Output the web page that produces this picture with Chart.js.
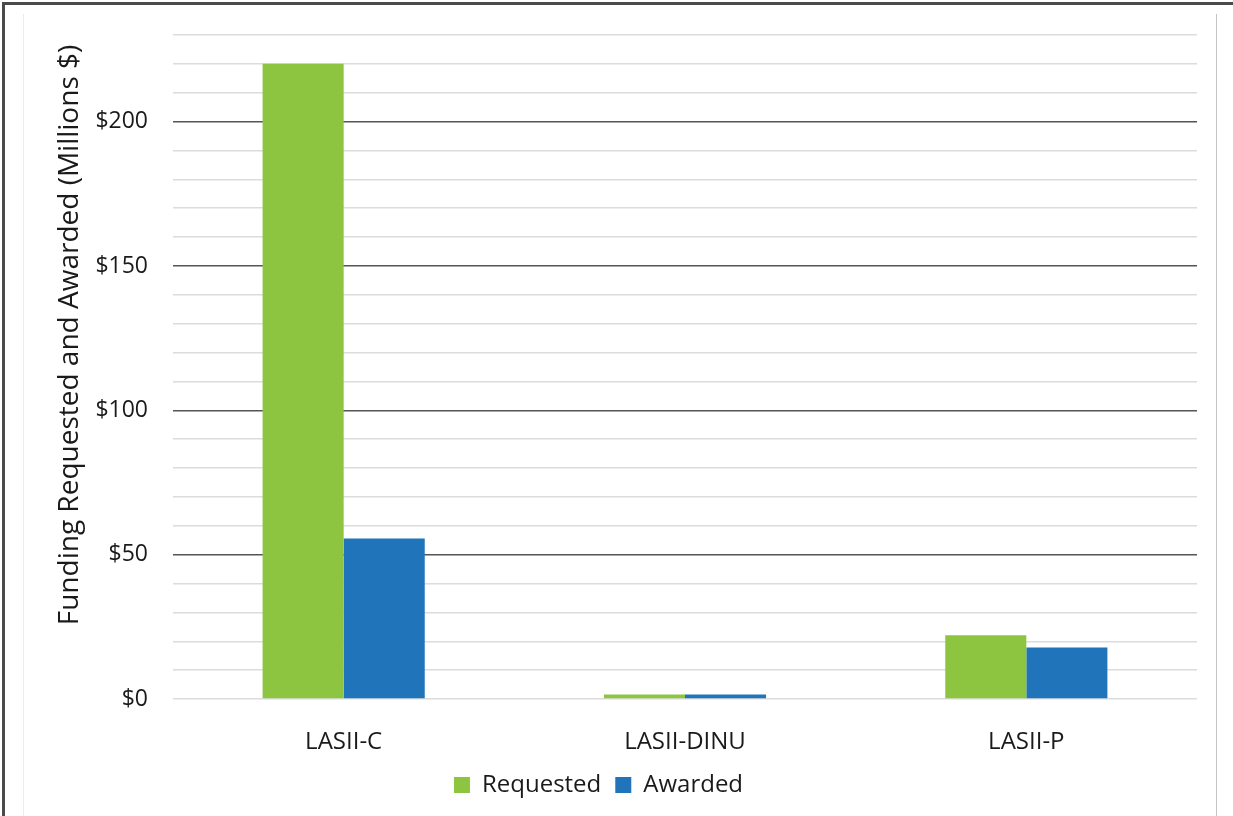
<!DOCTYPE html>
<html>
<head>
<meta charset="utf-8">
<script src="https://cdn.jsdelivr.net/npm/chart.js@4"></script>
<style>
html, body { margin: 0; padding: 0; background: #fff; }
body { width: 1233px; height: 816px; position: relative; overflow: hidden; }
.frame-top { position: absolute; left: 2px; top: 2px; width: 1231px; height: 3px; background: #4a4a4a; }
.frame-left { position: absolute; left: 2px; top: 2px; width: 3px; height: 814px; background: #4a4a4a; }
.inner-left { position: absolute; left: 23px; top: 14px; width: 1px; height: 802px; background: #ececec; }
.inner-right { position: absolute; left: 1216px; top: 14px; width: 1px; height: 802px; background: #c4c4c4; }
#wrap { position: absolute; left: 0; top: 0; width: 1233px; height: 816px; }
</style>
</head>
<body>
<div id="wrap"><canvas id="chart"></canvas></div>
<div class="frame-top"></div>
<div class="frame-left"></div>
<div class="inner-left"></div>
<div class="inner-right"></div>
<script>
const categories = ['LASII-C', 'LASII-DINU', 'LASII-P'];
const requested = [220, 1.6, 22.1];
const awarded = [55.6, 1.6, 17.8];
const yTicks = [0, 50, 100, 150, 200];

const fontFamily = '"Open Sans", "Noto Sans", sans-serif';

const yTitlePlugin = {
    id: 'yTitle',
    afterDraw(chart) {
        const ctx = chart.ctx;
        ctx.save();
        ctx.translate(70, 335);
        ctx.rotate(-Math.PI / 2);
        ctx.font = '28px ' + fontFamily;
        ctx.fillStyle = '#1a1a1a';
        ctx.textAlign = 'center';
        ctx.textBaseline = 'middle';
        ctx.fillText('Funding Requested and Awarded (Millions $)', 0, 0);
        ctx.restore();
    }
};

const ctx = document.getElementById('chart');
new Chart(ctx, {
    type: 'bar',
    data: {
        labels: categories,
        datasets: [
            { label: 'Requested', data: requested, backgroundColor: '#8DC541' },
            { label: 'Awarded', data: awarded, backgroundColor: '#1F74BA' }
        ]
    },
    options: {
        responsive: true,
        maintainAspectRatio: false,
        animation: false,
        layout: { padding: { top: 35, right: 36, bottom: 9, left: 0 } },
        datasets: { bar: { categoryPercentage: 0.475, barPercentage: 1 } },
        plugins: {
            tooltip: { enabled: false },
            legend: {
                position: 'bottom',
                labels: {
                    font: { family: fontFamily, size: 24 },
                    color: '#1a1a1a',
                    boxWidth: 16,
                    boxHeight: 16,
                    padding: 14
                }
            }
        },
        scales: {
            x: {
                grid: { display: false, drawTicks: false },
                border: { display: false },
                ticks: { font: { family: fontFamily, size: 24 }, color: '#1a1a1a', padding: 29 },
                afterFit: scale => { scale.height = 60; }
            },
            y: {
                min: 0,
                max: 230,
                border: { display: false },
                grid: {
                    drawTicks: false,
                    lineWidth: 1.5,
                    color: c => (c.tick.value % 50 === 0 && c.tick.value !== 0) ? '#555555' : '#dcdcdc'
                },
                ticks: {
                    stepSize: 10,
                    autoSkip: false,
                    padding: 25,
                    font: { family: fontFamily, size: 23 },
                    color: '#1a1a1a',
                    callback: v => yTicks.includes(v) ? '$' + v : ''
                },
                afterFit: scale => {
                    scale.width = 173;
                    scale.paddingTop = 0;
                    scale.paddingBottom = 0;
                }
            }
        }
    },
    plugins: [yTitlePlugin]
});
</script>
</body>
</html>
